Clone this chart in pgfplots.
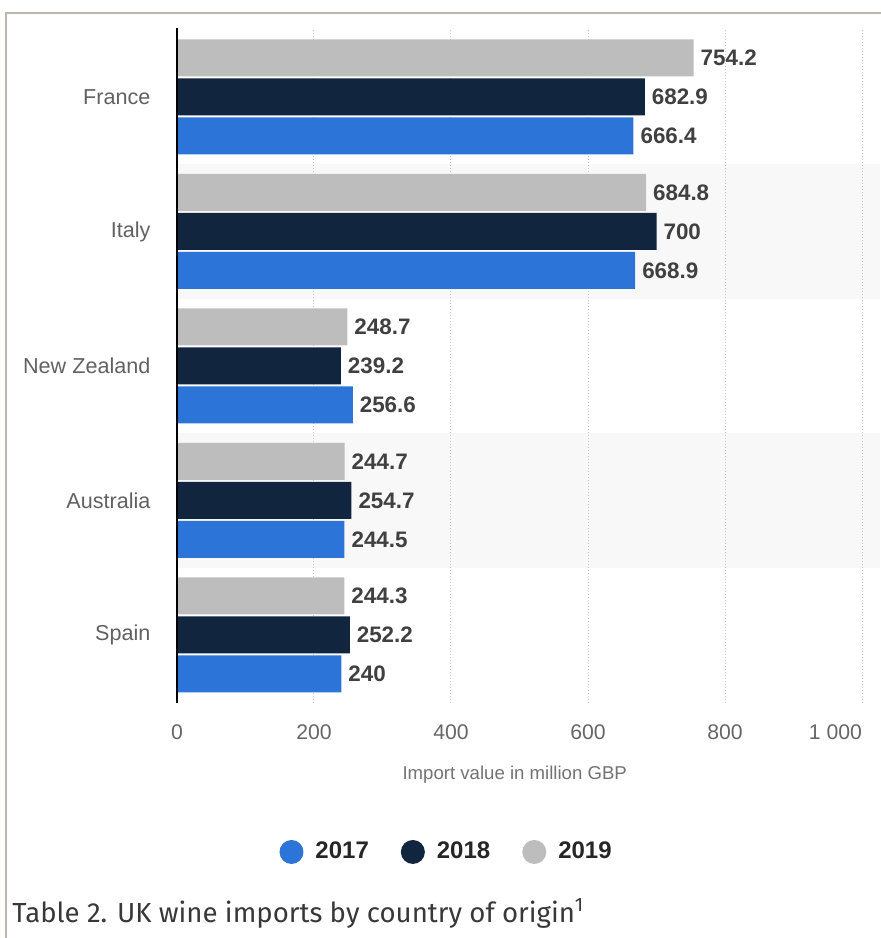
\documentclass[border=0pt]{standalone}
\usepackage{fontspec}
\setmainfont{Liberation Sans}
\newfontfamily\capfont{Fira Sans}
\usepackage{pgfplots}
\pgfplotsset{compat=1.18}
\definecolor{c2017}{HTML}{2C74D8}
\definecolor{c2018}{HTML}{11253F}
\definecolor{c2019}{HTML}{BDBDBD}
\definecolor{band}{HTML}{F8F8F8}
\definecolor{framec}{HTML}{BDB7B0}
\begin{document}
\begin{tikzpicture}
\path[use as bounding box] (0,0) rectangle (440pt,469pt);
% outer frame
\draw[framec, line width=0.7pt] (3pt,0) -- (3pt,462.5pt) -- (441pt,462.5pt);
\begin{axis}[
    at={(88.5pt,117.5pt)}, anchor=south west,
    scale only axis, width=342.5pt, height=337.5pt,
    clip=false,
    xbar, bar width=18.5pt,
    xmin=0, xmax=1000, ymin=-0.506, ymax=4.513,
    xtick={0,200,400,600,800,1000},
    xticklabels={0,200,400,600,800,\hbox to 0pt{\hss 1\ 000}},
    ytick={0,1,2,3,4},
    yticklabels={Spain,Australia,New Zealand,Italy,France},
    tick style={draw=none},
    axis line style={draw=none},
    /pgf/number format/assume math mode=true,
    ticklabel style={font=\fontsize{10.6}{12}\selectfont, text=black!60},
    xticklabel style={yshift=-7.5pt},
    yticklabel style={xshift=-5.5pt, font=\fontsize{10.8}{12}\selectfont, text=black!62},
    xlabel={Import value in million GBP},
    xlabel style={at={(axis description cs:0.493,0)}, anchor=center, yshift=-36pt,
        font=\fontsize{9.3}{11}\selectfont, text=black!55},
    nodes near coords,
    every node near coord/.append style={font=\bfseries\fontsize{11.2}{13}\selectfont, text=black!75, anchor=west},
    legend columns=3,
    legend style={at={(0.395,-0.2207)}, anchor=center, draw=none, fill=none,
        font=\bfseries\fontsize{12}{14}\selectfont, text=black!85,
        /tikz/every even column/.append style={column sep=14pt}},
]
% background bands and dotted grid
\fill[band] (axis cs:0,2.5) rectangle (axis cs:1026,3.5);
\fill[band] (axis cs:0,0.5) rectangle (axis cs:1026,1.5);
\pgfplotsinvokeforeach{200,400,600,800,1000}{
  \draw[densely dotted, black!22, line width=0.5pt] (axis cs:#1,-0.506) -- (axis cs:#1,4.513);
}
\addplot[fill=c2017, draw=none, bar shift=-19.5pt,
    legend image code/.code={\fill[c2017] (6pt,0pt) circle (6pt); \path (0,0) (16pt,0);}]
    coordinates {(240,0) (244.5,1) (256.6,2) (668.9,3) (666.4,4)};
\addplot[fill=c2018, draw=none, bar shift=0pt,
    legend image code/.code={\fill[c2018] (6pt,0pt) circle (6pt); \path (0,0) (16pt,0);}]
    coordinates {(252.2,0) (254.7,1) (239.2,2) (700,3) (682.9,4)};
\addplot[fill=c2019, draw=none, bar shift=19.5pt,
    legend image code/.code={\fill[c2019] (6pt,0pt) circle (6pt); \path (0,0) (16pt,0);}]
    coordinates {(244.3,0) (244.7,1) (248.7,2) (684.8,3) (754.2,4)};
\legend{2017,2018,2019}
\draw[black, line width=0.7pt] (rel axis cs:0,0) -- (rel axis cs:0,1);
\end{axis}
\node[anchor=base west, inner sep=0pt, text=black!78, font=\capfont\fontsize{13.8}{15}\selectfont]
    at (6pt,8pt) {Table 2. UK wine imports by country of origin\textsuperscript{1}};
\end{tikzpicture}
\end{document}
